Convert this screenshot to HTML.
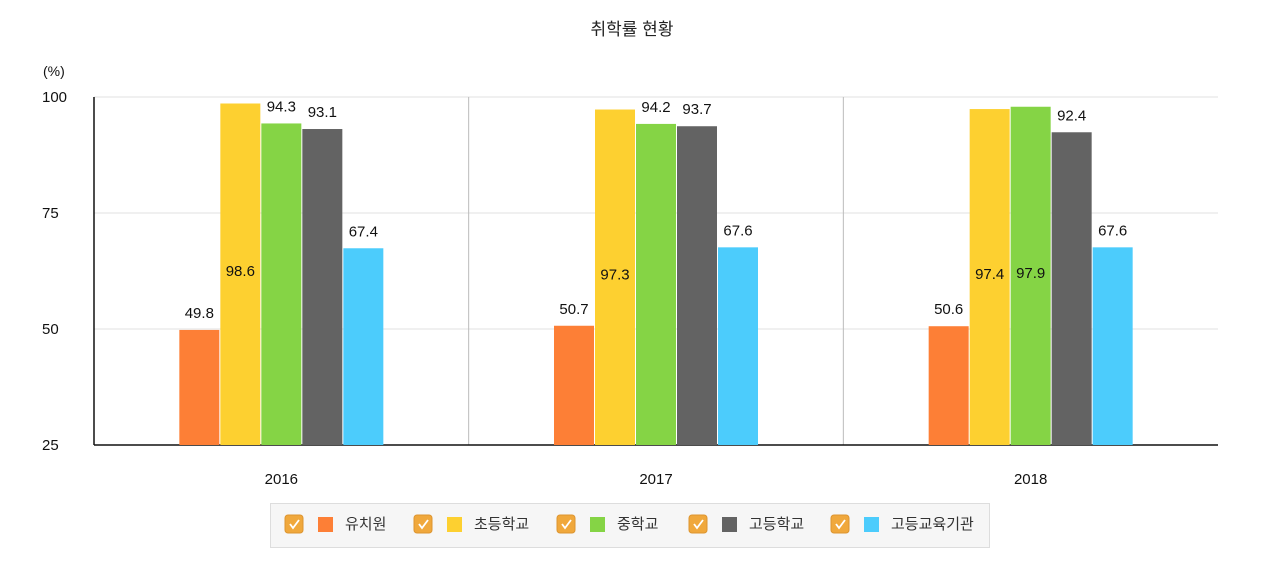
<!DOCTYPE html>
<html><head><meta charset="utf-8"><style>
body{margin:0;background:#fff;width:1280px;height:580px;overflow:hidden;font-family:"Liberation Sans","Noto Sans CJK KR",sans-serif;}
</style></head><body>
<svg id="chart" width="1280" height="580" xmlns="http://www.w3.org/2000/svg" style="font-family:'Liberation Sans','Noto Sans CJK KR',sans-serif">
<text x="632" y="35" text-anchor="middle" font-size="17" fill="#222">취학률 현황</text>
<text x="43" y="76" font-size="14" fill="#111">(%)</text>
<g id="grid"></g><g id="bars"></g><g id="labels"></g>
<g id="legend"></g>
</svg>
<script>
const categories=["2016","2017","2018"];
const seriesNames=["유치원","초등학교","중학교","고등학교","고등교육기관"];
const colors=["#fd7f36","#fdd030","#85d445","#636363","#4cccfc"];
const s0=[49.8,50.7,50.6];
const s1=[98.6,97.3,97.4];
const s2=[94.3,94.2,97.9];
const s3=[93.1,93.7,92.4];
const s4=[67.4,67.6,67.6];
const yTicks=[25,50,75,100];
const series=[s0,s1,s2,s3,s4];
const NS="http://www.w3.org/2000/svg";
const L=94,R=1218,T=97,B=445,ymin=25,ymax=100;
const y=v=>B-(v-ymin)/(ymax-ymin)*(B-T);
const gw=(R-L)/categories.length;
const gx=i=>L+gw*(i+0.5);
function mk(tag,attrs,parent,txt){const e=document.createElementNS(NS,tag);for(const k in attrs)e.setAttribute(k,attrs[k]);if(txt!==undefined)e.textContent=txt;document.getElementById(parent).appendChild(e);return e;}
yTicks.forEach(t=>{
 if(t>ymin){const g=mk('line',{x1:L,x2:R,y1:y(t),y2:y(t),stroke:'#e2e2e2','stroke-width':1},'grid');
 
 }
 const tl=mk('text',{x:42,y:y(t)+5,'font-size':15,fill:'#111'},'grid',String(t));
 
 
});
for(let i=1;i<categories.length;i++){const d=mk('line',{x1:L+gw*i,x2:L+gw*i,y1:T,y2:B,stroke:'#bbb','stroke-width':1},'grid');
 
 }
const ax=mk('line',{x1:L,x2:L,y1:T,y2:B,stroke:'#111','stroke-width':1.5},'grid');


const bx=mk('line',{x1:L,x2:R,y1:B,y2:B,stroke:'#111','stroke-width':1.5},'grid');


const bw=40,step=41;
categories.forEach((c,i)=>{
 const cl=mk('text',{x:gx(i),y:484,'text-anchor':'middle','font-size':15,fill:'#111'},'labels',c);
 
 
 series.forEach((s,j)=>{
  const x0=gx(i)-(step*5-1)/2+j*step, v=s[i];
  const r=mk('rect',{x:x0,y:y(v),width:bw,height:B-y(v),fill:colors[j]},'bars');
  
  
  const inside=v>95;
  const ly=inside?(y(v)+B)/2+2:y(v)-12;
  const t=mk('text',{x:x0+bw/2,y:ly,'text-anchor':'middle','font-size':15,fill:'#111'},'labels',v.toFixed(1));
  
  
 });
});
const lb=mk('rect',{x:270.5,y:503.5,width:719,height:44,fill:'#f6f6f6',stroke:'#ddd'},'legend');


const cbx=[285,414,557,689,831];
seriesNames.forEach((n,j)=>{
 const cx=cbx[j];
 const cb=mk('rect',{x:cx,y:515,width:18,height:18,rx:3,fill:'#f0a83c',stroke:'#dd9530'},'legend');
 
 
 mk('path',{d:`M${cx+5} ${524} l3 4 l6 -8`,stroke:'#fff','stroke-width':1.8,fill:'none'},'legend');
 const sw=mk('rect',{x:cx+33,y:517,width:15,height:15,fill:colors[j]},'legend');
 
 
 const t=mk('text',{x:cx+60,y:529,'font-size':15,fill:'#333'},'legend',n);
 
 
});
</script>
</body></html>
